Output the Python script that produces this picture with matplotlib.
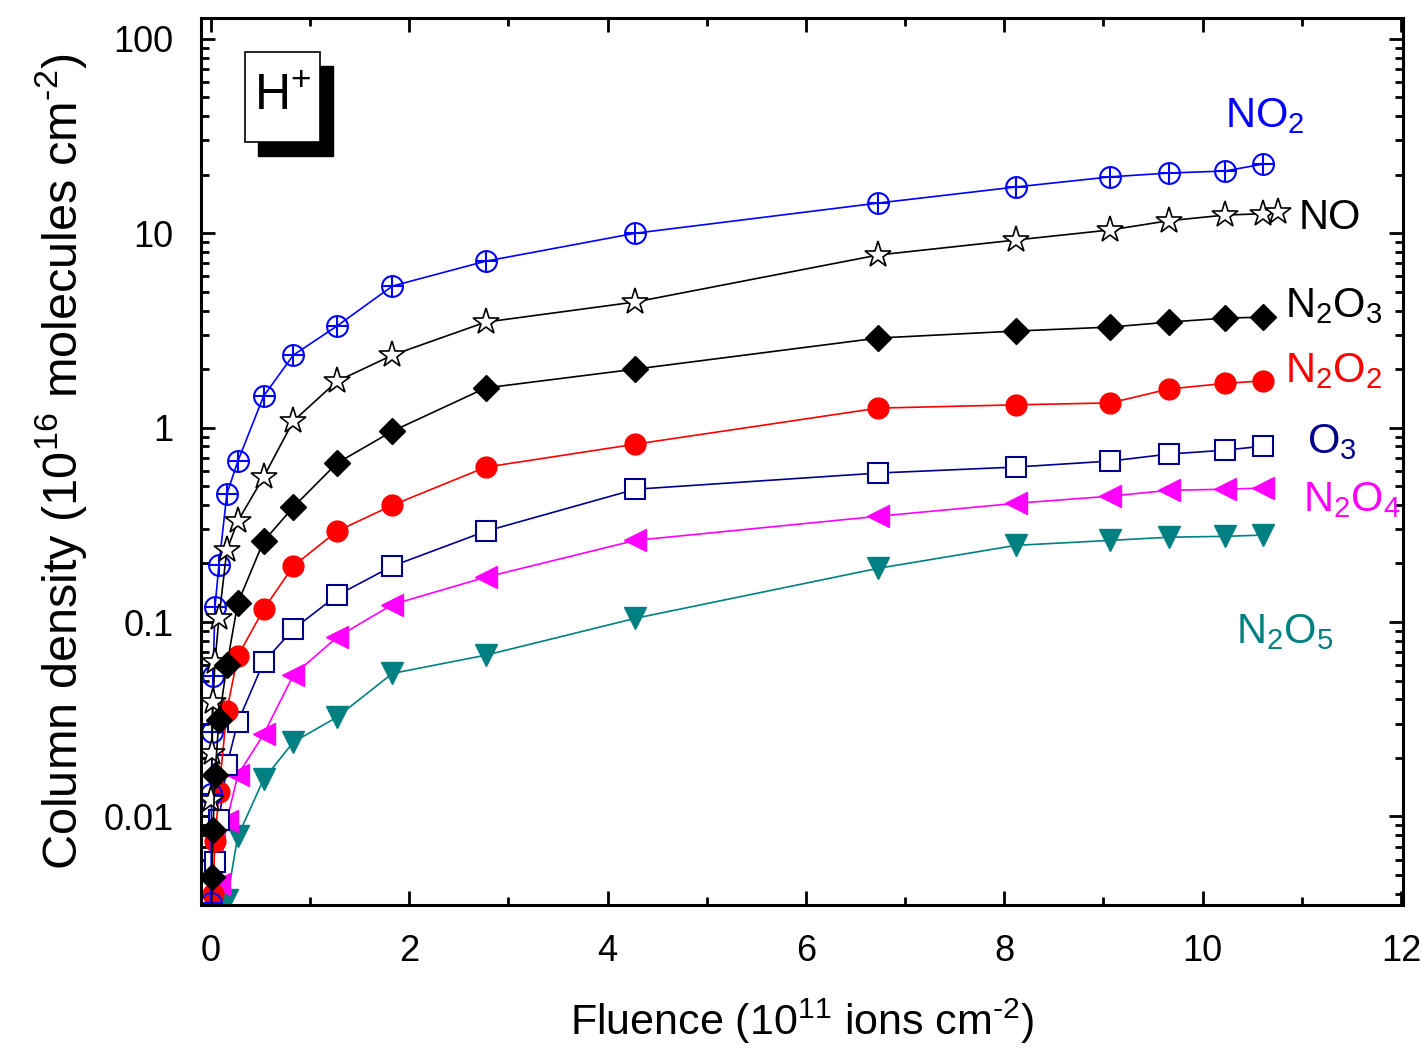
import numpy as np
import matplotlib
matplotlib.use('Agg')
import matplotlib.pyplot as plt
from matplotlib.patches import Rectangle
from matplotlib.ticker import MultipleLocator, LogLocator, NullFormatter, FixedLocator

plt.rcParams['font.family'] = ['Liberation Sans', 'DejaVu Sans']
plt.rcParams['mathtext.fontset'] = 'custom'
plt.rcParams['mathtext.rm'] = 'Liberation Sans'
plt.rcParams['mathtext.it'] = 'Liberation Sans'

# fluence (1e11 ions cm-2)
fluence = [0.0, 0.005, 0.01, 0.02, 0.04, 0.08, 0.16, 0.27, 0.53, 0.83, 1.27, 1.83,
           2.77, 4.28, 6.73, 8.12, 9.07, 9.66, 10.23, 10.61]
fluence_no = fluence[1:] + [10.76]

# column densities (1e16 molecules cm-2)
no2 = [0.0036, 0.0131, 0.0271, 0.0526, 0.119, 0.196, 0.455, 0.67, 1.45, 2.36, 3.33, 5.35,
       7.18, 10.0, 14.3, 17.3, 19.5, 20.4, 20.9, 22.7]
no = [0.0122, 0.0213, 0.0386, 0.062, 0.1045, 0.234, 0.330, 0.556, 1.08, 1.73, 2.36,
      3.49, 4.43, 7.73, 9.23, 10.4, 11.6, 12.4, 12.6, 12.9]
n2o3 = [0.0025, 0.0030, 0.00485, 0.00847, 0.0163, 0.0312, 0.0599, 0.125, 0.260, 0.390, 0.656,
        0.959, 1.60, 2.00, 2.89, 3.14, 3.29, 3.49, 3.66, 3.70]
n2o2 = [0.0015, 0.002, 0.0028, 0.004, 0.0075, 0.0133, 0.035, 0.0667, 0.116, 0.194, 0.293,
        0.399, 0.626, 0.822, 1.26, 1.31, 1.34, 1.58, 1.69, 1.74]
o3 = [0.001, 0.0015, 0.002, 0.003, 0.0058, 0.00953, 0.0183, 0.0305, 0.0621, 0.0918, 0.137,
      0.194, 0.293, 0.482, 0.584, 0.627, 0.673, 0.731, 0.766, 0.803]
n2o4 = [0.001, 0.0012, 0.0015, 0.002, 0.003, 0.0045, 0.0095, 0.0163, 0.0264, 0.0532, 0.0834,
        0.123, 0.170, 0.263, 0.350, 0.408, 0.444, 0.476, 0.482, 0.489]
n2o5 = [0.0008, 0.001, 0.0012, 0.0015, 0.002, 0.0028, 0.0037, 0.00789, 0.0155, 0.0241, 0.0324,
        0.0544, 0.0675, 0.1045, 0.189, 0.248, 0.263, 0.273, 0.276, 0.280]

fig = plt.figure(figsize=(14.22, 10.52), dpi=100)
ax = fig.add_axes([0.1414, 0.1397, 0.8452, 0.8432])

ax.plot(fluence, n2o5, '-v', color='#008080', mfc='#008080', mec='#008080', ms=16, lw=1.2)
ax.plot(fluence, n2o4, '-<', color='#FF00FF', mfc='#FF00FF', mec='#FF00FF', ms=16, lw=1.2)
ax.plot(fluence, o3, '-s', color='#00008B', mfc='white', mec='#00008B', ms=14, mew=1.5, lw=1.2)
ax.plot(fluence, n2o2, '-o', color='#FF0000', mfc='#FF0000', mec='#FF0000', ms=15, lw=1.2)
ax.plot(fluence, no2, '-o', color='#0000FF', mfc='none', mec='#0000FF', ms=15, mew=1.5, lw=1.2)
ax.plot(fluence, no2, '+', color='#0000FF', ms=15, mew=1.5)
ax.plot(fluence_no, no, '-*', color='black', mfc='white', mec='black', ms=20, mew=1.2, lw=1.2)
ax.plot(fluence, n2o3, '-D', color='black', mfc='black', mec='black', ms=13, lw=1.2)

ax.set_yscale('log')
ax.set_xlim(-0.1, 12.02)
ax.set_ylim(0.0035, 128)

ax.xaxis.set_major_locator(MultipleLocator(2))
ax.xaxis.set_minor_locator(MultipleLocator(1))
ax.yaxis.set_major_locator(FixedLocator([0.01, 0.1, 1, 10, 100]))
ax.yaxis.set_minor_locator(LogLocator(base=10, subs=np.arange(2, 10)))
ax.yaxis.set_minor_formatter(NullFormatter())
ax.set_yticklabels(['0.01', '0.1', '1', '10', '100'])

ax.tick_params(which='both', direction='in', top=True, right=True, width=2)
ax.tick_params(which='major', length=10, labelsize=26)
ax.tick_params(which='minor', length=6)
ax.tick_params(axis='x', which='major', pad=21)
ax.tick_params(axis='y', which='major', pad=20)
for sp in ax.spines.values():
    sp.set_linewidth(2.2)

ax.set_xlabel(r'Fluence (10$^{11}$ ions cm$^{\text{-}2}$)', fontsize=31, labelpad=20)
ax.set_ylabel(r'Column density (10$^{16}$ molecules cm$^{\text{-}2}$)', fontsize=35, labelpad=10)

# species labels
lab_fs = 30
ax.text(10.23, 35.0, r'NO$_2$', color='#0000FF', fontsize=lab_fs)
ax.text(10.97, 10.5, 'NO', color='black', fontsize=lab_fs)
ax.text(10.83, 3.7, r'N$_2$O$_3$', color='black', fontsize=lab_fs)
ax.text(10.83, 1.72, r'N$_2$O$_2$', color='#FF0000', fontsize=lab_fs)
ax.text(11.05, 0.74, r'O$_3$', color='#00008B', fontsize=lab_fs)
ax.text(11.01, 0.37, r'N$_2$O$_4$', color='#FF00FF', fontsize=lab_fs)
ax.text(10.34, 0.078, r'N$_2$O$_5$', color='#008080', fontsize=lab_fs)

# H+ box with shadow
ax.add_patch(Rectangle((0.0474, 0.8444), 0.0624, 0.1015, transform=ax.transAxes,
                       facecolor='black', edgecolor='black', zorder=5, clip_on=False))
ax.add_patch(Rectangle((0.0366, 0.8602), 0.0624, 0.1015, transform=ax.transAxes,
                       facecolor='white', edgecolor='black', lw=1.2, zorder=6, clip_on=False))
ax.text(0.0678, 0.911, r'H$^{+}$', transform=ax.transAxes, fontsize=36,
        ha='center', va='center', zorder=7)

fig.savefig('out.png', dpi=100)
